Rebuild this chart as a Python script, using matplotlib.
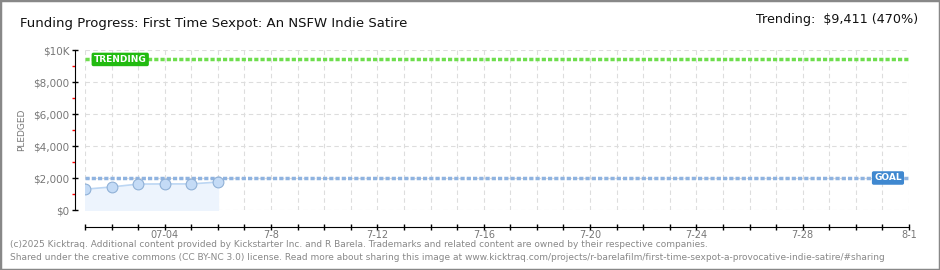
import pandas as pd
import matplotlib.pyplot as plt
import matplotlib.dates as mdates
from matplotlib.patches import Rectangle

# data
dates = ['2025-07-01', '2025-07-02', '2025-07-03', '2025-07-04', '2025-07-05', '2025-07-06']
pledged = [1300, 1440, 1620, 1630, 1630, 1750]
goal = 2000
trending = 9411
trend_pct = 470
y_ticks = [0, 2000, 4000, 6000, 8000, 10000]
y_labels = ['$0', '$2,000', '$4,000', '$6,000', '$8,000', '$10K']
x_label_days = ['2025-07-04', '2025-07-08', '2025-07-12', '2025-07-16',
                '2025-07-20', '2025-07-24', '2025-07-28', '2025-08-01']
x_labels = ['07-04', '7-8', '7-12', '7-16', '7-20', '7-24', '7-28', '8-1']

W, H = 940, 270
PT = 72 / 100  # px -> points
fig = plt.figure(figsize=(W / 100, H / 100), dpi=100)
ax = fig.add_axes([85 / W, 1 - 210 / H, (909 - 85) / W, 160 / H])

x = pd.to_datetime(dates)
start = pd.Timestamp('2025-07-01')
end = pd.Timestamp('2025-08-01')

ax.fill_between(x, pledged, 0, color='#edf4fd', zorder=1)
ax.plot(x, pledged, color='#bcd6f3', lw=1.2, zorder=3)
ax.scatter(x, pledged, s=60, color='#c4dbf6', edgecolor='#8fb0d6', lw=0.8, zorder=4)

ax.axhline(goal, color='#8fb3e0', lw=2.5, ls=(0, (1.2, 0.6)), zorder=2)
ax.axhline(trending, color='#6ede4e', lw=2.5, ls=(0, (1.2, 0.6)), zorder=2)

ax.set_xlim(start, end)
ax.set_ylim(0, 10000)

all_days = pd.date_range(start, end, freq='D')
ax.set_xticks(mdates.date2num(all_days))
lab = {pd.Timestamp(d): l for d, l in zip(x_label_days, x_labels)}
ax.set_xticklabels([lab.get(d, '') for d in all_days])
ax.set_yticks(y_ticks)
ax.set_yticklabels(y_labels)
ax.set_yticks([1000, 3000, 5000, 7000, 9000], minor=True)

ax.grid(True, color='#dddddd', ls=(0, (4, 3)), lw=0.8)
for s in ['top', 'right']:
    ax.spines[s].set_visible(False)
ax.spines['left'].set_position(('outward', 10 * PT))
ax.spines['bottom'].set_position(('outward', 17 * PT))
ax.tick_params(axis='both', direction='inout', length=6 * PT, width=1, color='black',
               labelsize=7.5, labelcolor='#777777')
ax.tick_params(axis='y', which='minor', direction='out', length=3 * PT, width=1, color='red')
ax.tick_params(axis='x', pad=0, labelsize=7)
ax.tick_params(axis='y', pad=2)
ax.set_ylabel('PLEDGED', fontsize=6.5, color='#777777', labelpad=5)
ax.set_axisbelow(True)

# line labels
ax.text(mdates.date2num(pd.Timestamp('2025-07-01 08:00')), trending, 'TRENDING',
        fontsize=6.5, color='white', weight='bold', va='center', ha='left', zorder=6,
        bbox=dict(boxstyle='round,pad=0.25,rounding_size=0.2', fc='#22bb11', ec='none'))
ax.text(mdates.date2num(pd.Timestamp('2025-07-31 05:00')), goal, 'GOAL',
        fontsize=6.5, color='white', weight='bold', va='center', ha='center', zorder=6,
        bbox=dict(boxstyle='round,pad=0.25,rounding_size=0.2', fc='#3f88d0', ec='none'))

fig.text(20 / W, 1 - 23 / H, 'Funding Progress: First Time Sexpot: An NSFW Indie Satire',
         fontsize=9.5, va='center', ha='left', color='#111111')
fig.text(918 / W, 1 - 20 / H, f'Trending:  ${trending:,} ({trend_pct}%)',
         fontsize=9.2, va='center', ha='right', color='#111111')

foot1 = ('(c)2025 Kicktraq. Additional content provided by Kickstarter Inc. and R Barela. '
         'Trademarks and related content are owned by their respective companies.')
foot2 = ('Shared under the creative commons (CC BY-NC 3.0) license. Read more about sharing this image at '
         'www.kicktraq.com/projects/r-barelafilm/first-time-sexpot-a-provocative-indie-satire/#sharing')
fig.text(10 / W, 1 - 244.5 / H, foot1, fontsize=6.5, color='#888888', va='center')
fig.text(10 / W, 1 - 257 / H, foot2, fontsize=6.5, color='#888888', va='center')

fig.add_artist(Rectangle((0, 0), 1, 1, transform=fig.transFigure, fill=False,
                         ec='#888888', lw=2.5))

fig.savefig('out.png', dpi=100)
